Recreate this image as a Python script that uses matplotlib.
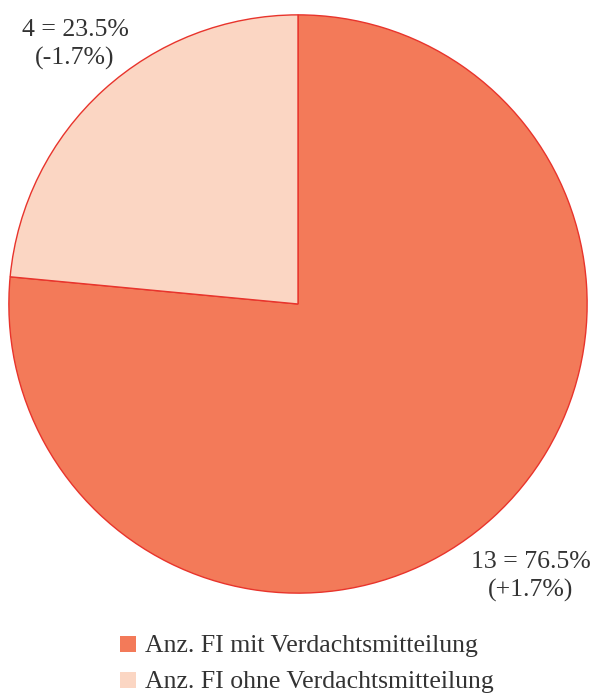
import matplotlib
matplotlib.use("Agg")
import matplotlib.pyplot as plt
from matplotlib.patches import Rectangle

categories = ["Anz. FI mit Verdachtsmitteilung", "Anz. FI ohne Verdachtsmitteilung"]
counts = [13, 4]
shares = [76.5, 23.5]
changes = ["+1.7%", "-1.7%"]
colors = ["#f37a59", "#fbd6c3"]
edge = "#e8342c"
text_color = "#333333"

W, H = 595, 693
fig = plt.figure(figsize=(W / 100, H / 100), dpi=100)
ax = fig.add_axes([8 / W, 99 / H, 580 / W, 580 / H])
ax.pie(shares, colors=colors, startangle=90, counterclock=False,
       wedgeprops=dict(edgecolor=edge, linewidth=1.0), radius=1.0)
ax.set_xlim(-1.003, 1.003)
ax.set_ylim(-1.003, 1.003)
ax.set_aspect("equal")
ax.axis("off")

font = dict(family="Liberation Serif", color=text_color)
FS = 18.5

def fx(px):
    return px / W

def fy(py):
    return 1 - py / H

# slice labels: value line and change line, each placed on its own baseline
label_pos = [(531, 568), (75, 36)]
for (x, base), n, s, c in zip(label_pos, counts, shares, changes):
    fig.text(fx(x), fy(base), f"{n} = {s}%", ha="center", va="baseline",
             fontsize=FS, **font)
    fig.text(fx(x), fy(base + 29), f"({c})", ha="center", va="baseline",
             fontsize=FS, **font)

# legend
for i, (lab, col) in enumerate(zip(categories, colors)):
    base = 652 + i * 36
    fig.patches.append(Rectangle((fx(120), fy(base)), 16 / W, 16 / H,
                                 transform=fig.transFigure, facecolor=col,
                                 edgecolor="none"))
    fig.text(fx(145), fy(base), lab, ha="left", va="baseline", fontsize=FS, **font)

fig.savefig("out.png", dpi=100)
